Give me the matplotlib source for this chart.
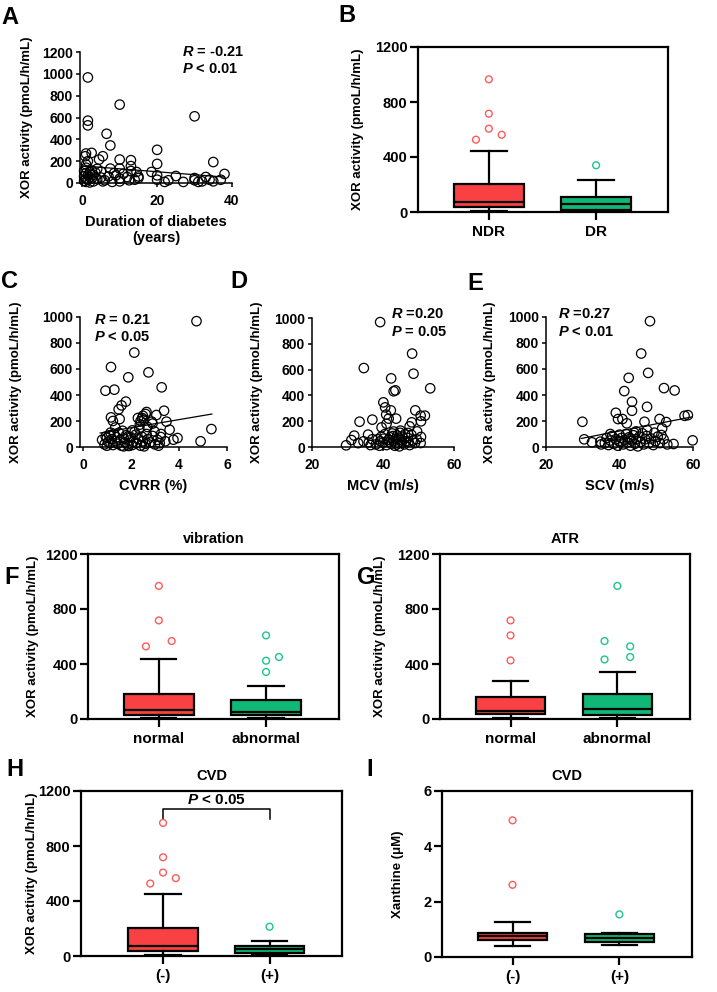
#Multi panel figure: XOR activity scatter plots and box plots
import numpy as np
import matplotlib as mpl
mpl.use('Agg')
import matplotlib.pyplot as plt

mpl.rcParams['font.family'] = 'Liberation Sans'
mpl.rcParams['font.weight'] = 'bold'
mpl.rcParams['axes.labelweight'] = 'bold'
mpl.rcParams['axes.titleweight'] = 'bold'
mpl.rcParams['mathtext.fontset'] = 'custom'
mpl.rcParams['mathtext.rm'] = 'Liberation Sans:bold'
mpl.rcParams['mathtext.it'] = 'Liberation Sans:italic:bold'
mpl.rcParams['xtick.labelsize'] = 10
mpl.rcParams['ytick.labelsize'] = 10

#---- scatter data ----
dur_years = [1.5, 1.5, 1.5, 10, 30, 6.5, 7.5, 20, 20, 35, 1, 2.5, 0.8, 5.5, 4.5, 10, 13, 1.5, 1, 7.5,
             10, 13, 14.5, 18.5, 20, 25, 38, 33, 1, 2.5, 4, 5, 13,
             0.5, 0.5, 1, 1, 1, 1.5, 1.5, 2, 2, 2, 2.5, 3, 3, 4, 5, 5.5, 7, 8, 9, 10, 10, 11,
             12, 12.5, 14, 15, 15, 20, 22, 23, 27, 30, 30, 31, 32, 34, 35, 37, 8.5, 6, 3.5, 0.5]
dur_xor = [967, 571, 528, 718, 611, 451, 344, 304, 175, 192, 270, 276, 245, 245, 215, 215, 209, 200, 170, 132,
           132, 155, 101, 101, 70, 64, 83, 55, 140, 115, 130, 105, 110,
           60, 20, 90, 40, 10, 70, 30, 100, 55, 5, 40, 75, 15, 35, 50, 15, 60, 10, 70, 40, 15, 85,
           55, 25, 30, 60, 45, 30, 10, 25, 10, 45, 25, 10, 15, 30, 15, 30, 90, 25, 95, 110]
dur_fit = [-2.7, 157]   #slope, intercept

cvrr = [4.73, 2.14, 1.17, 1.89, 2.73, 3.28, 0.94, 1.31, 1.79, 1.61, 1.49, 1.53, 1.17, 3.38, 2.65, 2.61,
        3.06, 3.48, 2.87, 2.29, 2.47, 3.61, 5.35, 4.9, 3.94, 3.77, 3.24, 3.43, 2.98, 2.69, 2.37, 2.06,
        1.89, 2.55, 2.40, 1.25, 1.35, 2.9, 2.5,
        0.8, 0.9, 1.0, 1.0, 1.05, 1.1, 1.15, 1.2, 1.25, 1.3, 1.35, 1.4, 1.45, 1.5, 1.55, 1.6, 1.7, 1.75,
        1.8, 1.85, 1.95, 2.0, 2.05, 2.1, 2.2, 2.25, 2.3, 2.4, 2.45, 2.5, 2.6, 2.65, 2.7, 2.8, 2.9, 3.0,
        3.1, 3.2, 3.25, 1.15, 1.65, 2.35, 0.95, 1.7, 2.15, 2.55, 3.15, 1.9]
cvrr_xor = [968, 726, 615, 536, 574, 459, 433, 441, 349, 320, 290, 215, 228, 279, 269, 254,
            246, 195, 195, 223, 223, 133, 138, 44, 69, 56, 77, 44, 120, 154, 172, 128,
            82, 210, 200, 200, 150, 180, 240,
            55, 20, 70, 10, 40, 90, 30, 60, 15, 100, 45, 75, 25, 110, 55, 10, 65, 35,
            90, 20, 50, 75, 15, 40, 95, 30, 60, 10, 80, 45, 25, 100, 60, 35, 85, 20,
            55, 30, 100, 110, 125, 140, 80, 5, 115, 5, 10, 8]
cvrr_fit = [31.4, 85]

mcv = [39.2, 48.2, 48.6, 34.6, 53.3, 42.3, 43.0, 43.5, 40.1, 40.6, 42.2, 40.9, 43.7, 37.0, 33.4, 41.6,
       49.1, 48.1, 50.6, 51.8, 50.7, 39.6, 31.9, 29.6, 31.1, 35.8, 34.5, 44.9, 47.0, 49.6, 50.7, 50.6,
       41.0, 47.5, 43.0,
       38, 38.5, 39, 39.5, 40, 40.5, 41, 41.5, 42, 42.3, 42.6, 43, 43.3, 43.6, 44, 44.3, 44.6, 45,
       45.5, 46, 46.5, 47, 47.5, 48, 48.5, 49, 36, 37, 36.5, 33, 41.8, 42.8, 44.8, 46.2, 45.3, 40.2,
       39.2, 43.9, 49.5, 47.2]
mcv_xor = [968, 724, 568, 612, 455, 532, 432, 439, 346, 307, 284, 251, 220, 212, 196, 220,
           284, 191, 243, 243, 199, 152, 88, 13, 54, 96, 44, 127, 109, 121, 78, 31,
           180, 160, 120,
           20, 60, 10, 80, 35, 100, 15, 55, 75, 25, 105, 45, 10, 65, 90, 30, 5, 55,
           80, 20, 45, 70, 15, 95, 50, 30, 35, 60, 15, 30, 40, 85, 110, 100, 35, 65,
           45, 20, 60, 40]

scv = [48.3, 45.9, 47.8, 42.5, 52.1, 55.0, 41.3, 43.4, 47.5, 43.4, 39.0, 40.8, 39.6, 42.0, 29.9, 46.8,
       50.9, 52.7, 57.7, 58.6, 59.9, 54.7, 30.4, 32.5, 34.8, 51.6, 51.4, 47.5, 44.5, 49.5, 37.5,
       36, 36.5, 37, 37.5, 38, 38.5, 39, 39.5, 40, 40.3, 40.6, 41, 41.4, 41.8, 42.2, 42.6, 43, 43.4,
       43.8, 44.2, 44.6, 45, 45.4, 45.8, 46.2, 46.6, 47, 47.4, 48, 48.6, 49.2, 49.8, 50.4, 51, 52, 53,
       35, 44, 39.8, 42.9]
scv_xor = [968, 719, 570, 532, 453, 435, 430, 348, 309, 279, 263, 215, 215, 182, 194, 194,
           215, 192, 240, 245, 51, 23, 59, 36, 41, 143, 92, 130, 120, 110, 100,
           30, 70, 15, 50, 85, 25, 60, 10, 95, 40, 70, 20, 55, 100, 35, 75, 10, 50,
           90, 25, 60, 5, 80, 40, 105, 20, 60, 85, 30, 65, 15, 45, 80, 30, 60, 20,
           20, 110, 45, 65]
scv_fit = [5.5, -97]

#---- box plot data: whislo, q1, median, q3, whishi ----
ndr_dr = [[5, 35, 70, 204, 446], [3, 15, 56, 111, 233]]
ndr_dr_out = [[965, 715, 606, 562, 526], [340]]
ndr_dr_off = [[0, 0, 0, 0.12, -0.12], [0]]

vib = [[5, 29, 65, 184, 434], [5, 29, 51, 141, 237]]
vib_out = [[968, 717, 567, 528], [608, 451, 424, 342]]
vib_off = [[0, 0, 0.12, -0.12], [0, 0.12, 0, 0]]

atr = [[5, 34, 61, 162, 274], [5, 32, 70, 182, 344]]
atr_out = [[717, 608, 426], [968, 567, 528, 451, 433]]
atr_off = [[0, 0, 0], [0, -0.12, 0.12, 0.12, -0.12]]

cvd_xor = [[7, 39, 75, 206, 450], [4, 24, 51, 75, 106]]
cvd_xor_out = [[968, 718, 607, 566, 527], [213]]
cvd_xor_off = [[0, 0, 0, 0.12, -0.12], [0]]

cvd_xan = [[0.40, 0.63, 0.75, 0.87, 1.28], [0.43, 0.55, 0.70, 0.82, 0.88]]
cvd_xan_out = [[4.94, 2.61], [1.54]]
cvd_xan_off = [[0, 0], [0]]

fills = ['#F94144', '#10B877']
flier_cols = ['#FF5A5A', '#1CC68A']
ylab = 'XOR activity (pmoL/h/mL)'

W, H = 717., 992.
fig = plt.figure(figsize=(W/100, H/100), dpi=100)

def add_ax(l, t, r, b):
    return fig.add_axes([l/W, 1-b/H, (r-l)/W, (b-t)/H])

def letter(x, y, s):
    fig.text(x/W, 1-y/H, s, fontsize=17, fontweight='bold', ha='center', va='center')

def scatter_panel(ax, x, y, xlim, xticks, ylim, yticks, xlabel, labx, fit=None, fitx=None):
    ax.scatter(x, y, s=46, facecolors='none', edgecolors='k', linewidths=0.9, zorder=3, clip_on=False)
    if fit is not None:
        xx = np.array(fitx)
        ax.plot(xx, fit[0]*xx + fit[1], 'k-', lw=0.9)
    ax.set_xlim(xlim)
    ax.set_ylim(ylim)
    ax.set_xticks(xticks)
    ax.set_yticks(yticks)
    for s in ['top', 'right']:
        ax.spines[s].set_visible(False)
    for s in ['left', 'bottom']:
        ax.spines[s].set_linewidth(1.1)
    ax.tick_params(width=1.1, length=3, pad=2)
    ax.tick_params(axis='x', pad=5)
    ax.set_xlabel(xlabel, fontsize=10.5, labelpad=5)
    ax.set_ylabel(ylab, fontsize=9.5)
    ax.yaxis.set_label_coords(labx, 0.5)

def box_panel(ax, stats, outl, offs, labels, xlim, ylim, yticks, ylabel, labx, title=None):
    bs = []
    for s, lab in zip(stats, labels):
        bs.append(dict(whislo=s[0], q1=s[1], med=s[2], q3=s[3], whishi=s[4], label=lab))
    bp = ax.bxp(bs, positions=[0, 1], widths=0.65, patch_artist=True, showfliers=False,
                boxprops=dict(lw=1.6, edgecolor='k'), medianprops=dict(color='k', lw=1.6),
                whiskerprops=dict(lw=1.6, color='k'), capprops=dict(lw=1.6, color='k'),
                capwidths=0.33)
    for patch, c in zip(bp['boxes'], fills):
        patch.set_facecolor(c)
    for i in range(2):
        ax.scatter(i + np.array(offs[i]), outl[i], s=24, facecolors='none',
                   edgecolors=flier_cols[i], linewidths=1.0, zorder=4)
    ax.set_xlim(xlim)
    ax.set_ylim(ylim)
    ax.set_yticks(yticks)
    for s in ax.spines.values():
        s.set_linewidth(1.6)
    ax.tick_params(width=1.6, length=5.5, pad=2, labelsize=10.5)
    ax.tick_params(axis='x', labelsize=11, pad=4)
    ax.set_ylabel(ylabel, fontsize=9.5)
    ax.yaxis.set_label_coords(labx, 0.5)
    if title:
        ax.set_title(title, fontsize=10.5, pad=8)

#A
ax = add_ax(80, 52, 232, 183)
scatter_panel(ax, dur_years, dur_xor, [-0.6, 40], [0, 20, 40], [0, 1200], np.arange(0, 1201, 200),
              'Duration of diabetes\n(years)', -0.31, dur_fit, [0, 38])
fig.text(182/W, 1-52/H, r'$R$ = -0.21', fontsize=10.5, va='center')
fig.text(182/W, 1-69/H, r'$P$ < 0.01', fontsize=10.5, va='center')
letter(10, 18, 'A')

#B
ax = add_ax(418, 47, 668, 212)
box_panel(ax, ndr_dr, ndr_dr_out, ndr_dr_off, ['NDR', 'DR'], [-0.66, 1.67], [0, 1200],
          [0, 400, 800, 1200], ylab, -0.216)
letter(347, 15, 'B')

#C
ax = add_ax(80, 317, 227, 447)
scatter_panel(ax, cvrr, cvrr_xor, [-0.12, 6], [0, 2, 4, 6], [0, 1000], np.arange(0, 1001, 200),
              'CVRR (%)', -0.395, cvrr_fit, [0.72, 5.37])
fig.text(94/W, 1-320/H, r'$R$ = 0.21', fontsize=10.5, va='center')
fig.text(94/W, 1-337/H, r'$P$ < 0.05', fontsize=10.5, va='center')
letter(10, 282, 'C')

#D
ax = add_ax(312, 318, 454, 447)
scatter_panel(ax, mcv, mcv_xor, [20, 60], [20, 40, 60], [0, 1000], np.arange(0, 1001, 200),
              'MCV (m/s)', -0.345)
fig.text(391/W, 1-314/H, r'$R$ =0.20', fontsize=10.5, va='center')
fig.text(391/W, 1-332/H, r'$P$ = 0.05', fontsize=10.5, va='center')
letter(239, 282, 'D')

#E
ax = add_ax(546, 317, 693, 447)
scatter_panel(ax, scv, scv_xor, [20, 60], [20, 40, 60], [0, 1000], np.arange(0, 1001, 200),
              'SCV (m/s)', -0.34, scv_fit, [29.6, 60])
fig.text(558/W, 1-314/H, r'$R$ =0.27', fontsize=10.5, va='center')
fig.text(558/W, 1-332/H, r'$P$ < 0.01', fontsize=10.5, va='center')
letter(475, 283, 'E')

#F
ax = add_ax(88, 554, 339, 719)
box_panel(ax, vib, vib_out, vib_off, ['normal', 'abnormal'], [-0.66, 1.68], [0, 1200],
          [0, 400, 800, 1200], ylab, -0.195, 'vibration')
letter(12, 577, 'F')

#G
ax = add_ax(440, 554, 690, 719)
box_panel(ax, atr, atr_out, atr_off, ['normal', 'abnormal'], [-0.66, 1.68], [0, 1200],
          [0, 400, 800, 1200], ylab, -0.216, 'ATR')
letter(366, 577, 'G')

#H
ax = add_ax(81, 791, 342, 956)
box_panel(ax, cvd_xor, cvd_xor_out, cvd_xor_off, ['(-)', '(+)'], [-0.77, 1.68], [0, 1200],
          [0, 400, 800, 1200], ylab, -0.165, 'CVD')
ax.plot([0, 0, 1, 1], [994, 1069, 1069, 994], 'k-', lw=1.1)
ax.text(0.5, 1080, r'$P$ < 0.05', fontsize=11, ha='center', va='bottom')
letter(15, 769, 'H')

#I
ax = add_ax(442, 791, 692, 957)
box_panel(ax, cvd_xan, cvd_xan_out, cvd_xan_off, ['(-)', '(+)'], [-0.66, 1.68], [0, 6],
          [0, 2, 4, 6], u'Xanthine (\u03bcM)', -0.152, 'CVD')
letter(370, 769, 'I')

fig.savefig('out.png', dpi=100)
